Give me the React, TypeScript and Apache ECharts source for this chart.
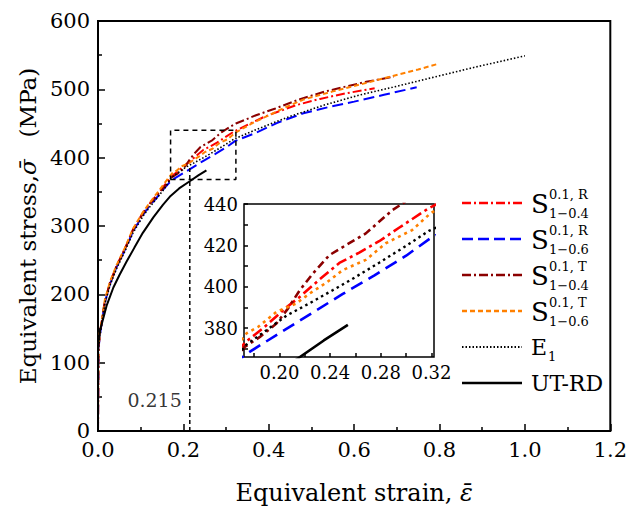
import React, { useEffect, useRef } from "react";
import * as echarts from "echarts";

const SERIF = "DejaVu Serif";

// ---------- axes ----------
const mainX = { min: 0, max: 1.2, interval: 0.2 };
const mainY = { min: 0, max: 600, interval: 100 };
const insetX = { min: 0.172, max: 0.322 };
const insetY = { min: 366, max: 440 };
const insetXTickValues = [0.18, 0.2, 0.22, 0.24, 0.26, 0.28, 0.3, 0.32];
const insetXLabelValues = [0.2, 0.24, 0.28, 0.32];
const insetYTickValues = [370, 380, 390, 400, 410, 420, 430, 440];
const insetYLabelValues = [380, 400, 420, 440];

// ---------- data (strain, stress MPa) ----------
const sR04: number[][] = [
  [0, 0], [0.001, 120], [0.004, 141], [0.009, 161], [0.016, 190], [0.028, 217], [0.043, 241],
  [0.063, 267], [0.082, 295], [0.105, 319], [0.12, 332], [0.137, 345], [0.155, 359],
  [0.1728, 373], [0.1872, 380], [0.2055, 390], [0.2159, 395], [0.2316, 403.5], [0.2473, 411.5],
  [0.263, 416.5], [0.2787, 422], [0.2944, 428.5], [0.3179, 438], [0.35, 448], [0.39, 460],
  [0.4647, 477], [0.52, 486], [0.579, 494], [0.648, 501.5],
];
const sR06: number[][] = [
  [0, 0], [0.001, 118], [0.004, 139], [0.009, 159], [0.016, 188], [0.028, 215], [0.043, 239],
  [0.063, 265], [0.082, 292], [0.105, 316], [0.12, 329], [0.137, 341], [0.155, 355],
  [0.1725, 367], [0.2, 377.5], [0.225, 387], [0.25, 396.5], [0.275, 405.5], [0.3, 415],
  [0.3216, 424.5], [0.3665, 435.5], [0.42, 451], [0.481, 465], [0.54, 474], [0.6, 482],
  [0.67, 492], [0.7465, 503],
];
const sT04: number[][] = [
  [0, 0], [0.001, 120], [0.004, 140], [0.009, 160], [0.016, 190], [0.028, 216], [0.043, 240],
  [0.063, 266], [0.082, 294], [0.105, 318], [0.12, 331], [0.137, 344], [0.155, 357],
  [0.1728, 371], [0.1846, 375.7], [0.1976, 382.2], [0.2068, 389.5], [0.2159, 398.2],
  [0.2264, 406.4], [0.2395, 415.3], [0.2525, 420.1], [0.2682, 425.8], [0.2891, 437],
  [0.309, 445], [0.323, 450], [0.37, 462], [0.4156, 472], [0.47, 485], [0.53, 496.5],
  [0.58, 504], [0.628, 511], [0.693, 518.5],
];
const sT06: number[][] = [
  [0, 0], [0.001, 122], [0.004, 143], [0.009, 162], [0.016, 192], [0.028, 218], [0.043, 242],
  [0.063, 268], [0.082, 296], [0.105, 320], [0.12, 333], [0.137, 347], [0.155, 362],
  [0.1741, 377.5], [0.1832, 380.6], [0.1976, 387.8], [0.2133, 391.9], [0.2238, 396.7],
  [0.2369, 401.9], [0.2499, 408], [0.2682, 413], [0.2839, 421], [0.3048, 427.4],
  [0.3192, 435.5], [0.36, 450], [0.4, 462], [0.44, 474], [0.481, 485], [0.55, 497],
  [0.62, 508], [0.693, 520], [0.75, 529], [0.795, 537],
];
const e1: number[][] = [
  [0, 0], [0.001, 118], [0.004, 138], [0.009, 158], [0.016, 186], [0.028, 213], [0.043, 237],
  [0.063, 263], [0.082, 290], [0.105, 314], [0.12, 327], [0.137, 340], [0.155, 354],
  [0.1728, 371.5], [0.1898, 379], [0.2055, 386], [0.2238, 392], [0.242, 398.3], [0.2604, 404.8],
  [0.2787, 411.6], [0.2996, 419.6], [0.3179, 427], [0.37, 441], [0.448, 460], [0.53, 477],
  [0.6116, 491.5], [0.69, 503], [0.775, 516], [0.88, 532], [1.0, 549],
];
const utRD: number[][] = [
  [0, 0], [0, 125], [0.005, 148], [0.0124, 165], [0.02, 183], [0.036, 210], [0.05, 228],
  [0.067, 248], [0.085, 268], [0.105, 290], [0.13, 313], [0.152, 331], [0.17, 344],
  [0.19, 355], [0.215, 365.5], [0.235, 374], [0.254, 381.5],
];

// zoom box & marker
const zoomBoxStrain = [0.17, 0.323];
const zoomBoxStress = [368, 440];
const markStrain = 0.215;
const markTopStress = 389;
const markLabelStress = 45;
const markLabel = "0.215";

// legend texts
const legendSup = ["0.1, R", "0.1, R", "0.1, T", "0.1, T", "", ""];
const legendSub = ["1\u22120.4", "1\u22120.6", "1\u22120.4", "1\u22120.6", "1", ""];
const legendMain = ["S", "S", "S", "S", "E", "UT-RD"];

const curves = [sR04, sR06, sT04, sT06, e1, utRD];
const names = ["S R 1-0.4", "S R 1-0.6", "S T 1-0.4", "S T 1-0.6", "E1", "UT-RD"];
const colors = ["#ff0000", "#0000ff", "#8b0000", "#ff8000", "#000000", "#000000"];
const dashMain: (number[] | null)[] = [[9, 3, 2, 3], [11, 5], [9, 3, 2, 3], [5, 3], [1.5, 2], null];
const dashInset: (number[] | null)[] = [[11, 4, 3, 4], [13, 7], [8, 4, 3, 4], [3, 4], [2.5, 3.5], null];
const widthMain = [2, 2, 2, 2, 1.6, 2];
const widthInset = [2.6, 2.6, 2.6, 2.6, 2.4, 2.6];

export default function App() {
  const ref = useRef<HTMLDivElement>(null);
  useEffect(() => {
    if (!ref.current) return;
    const chart = echarts.init(ref.current, null, { renderer: "svg" });

    const series: any[] = [];
    curves.forEach((d, i) => {
      series.push({
        type: "line", name: names[i], data: d, xAxisIndex: 0, yAxisIndex: 0,
        symbol: "none", silent: true, z: 3,
        lineStyle: { color: colors[i], width: widthMain[i], type: dashMain[i] || "solid", cap: "butt" },
      });
      series.push({
        type: "line", name: names[i] + " inset", data: d, xAxisIndex: 1, yAxisIndex: 1,
        symbol: "none", silent: true, z: 5, clip: true,
        lineStyle: { color: colors[i], width: widthInset[i], type: dashInset[i] || "solid", cap: "butt" },
      });
    });
    series.push({
      type: "line", data: [
        [zoomBoxStrain[0], zoomBoxStress[0]], [zoomBoxStrain[1], zoomBoxStress[0]],
        [zoomBoxStrain[1], zoomBoxStress[1]], [zoomBoxStrain[0], zoomBoxStress[1]],
        [zoomBoxStrain[0], zoomBoxStress[0]],
      ],
      xAxisIndex: 0, yAxisIndex: 0, symbol: "none", silent: true, z: 4,
      lineStyle: { color: "#000", width: 1.5, type: [5, 4] },
    });
    series.push({
      type: "line", data: [[markStrain, 0], [markStrain, markTopStress]],
      xAxisIndex: 0, yAxisIndex: 0, symbol: "none", silent: true, z: 4,
      lineStyle: { color: "#000", width: 1.5, type: [4, 3] },
    });
    series.push({
      type: "scatter", data: [[markStrain, markLabelStress]], xAxisIndex: 0, yAxisIndex: 0,
      symbolSize: 0, silent: true,
      label: { show: true, position: "left", distance: 8, formatter: markLabel, fontSize: 19, fontFamily: SERIF, color: "#000" },
    });

    // legend graphic
    const graphic: any[] = [];
    const legX1 = 462, legX2 = 522, textX = 531, rowTop = 203, rowGap = 36;
    curves.forEach((_, i) => {
      const y = rowTop + i * rowGap;
      graphic.push({
        type: "line", shape: { x1: legX1, y1: y, x2: legX2, y2: y },
        style: { stroke: colors[i], lineWidth: widthMain[i] + 0.5, lineDash: dashMain[i] || undefined },
      });
      const isS = legendMain[i] === "S";
      graphic.push({
        type: "text", x: textX, y: y + (isS ? 1 : 0),
        style: { text: legendMain[i], fontSize: isS ? 26 : 22, fontFamily: SERIF, fill: "#000", verticalAlign: "middle", align: "left" },
      });
      if (legendSup[i]) {
        graphic.push({
          type: "text", x: textX + 18, y: y - 9,
          style: { text: legendSup[i], fontSize: 13, fontFamily: SERIF, fill: "#000", verticalAlign: "middle", align: "left" },
        });
      }
      if (legendSub[i]) {
        graphic.push({
          type: "text", x: textX + (isS ? 18 : 17), y: y + (isS ? 10 : 9),
          style: { text: legendSub[i], fontSize: 13, fontFamily: SERIF, fill: "#000", verticalAlign: "middle", align: "left" },
        });
      }
    });

    const tickLine = { color: "#000", width: 1.5 };
    const richTitle = (size: number) => ({
      color: "#000", fontSize: size, fontFamily: SERIF,
      rich: {
        a: { fontSize: size, fontFamily: SERIF, color: "#000" },
        b: { fontSize: size, fontFamily: SERIF, fontStyle: "italic", color: "#000" },
      },
    });
    const option: any = {
      animation: false,
      backgroundColor: "#fff",
      textStyle: { fontFamily: SERIF },
      grid: [
        { left: 98, top: 21, width: 516, height: 410, show: true, borderColor: "#000", borderWidth: 2, backgroundColor: "transparent" },
        { left: 244, top: 204, width: 190, height: 153, show: true, borderColor: "#000", borderWidth: 1.5, backgroundColor: "#fff" },
      ],
      xAxis: [
        {
          type: "value", gridIndex: 0, ...mainX,
          axisLine: { show: false },
          axisTick: { inside: true, length: 7, lineStyle: tickLine },
          minorTick: { show: true, splitNumber: 2, length: 4, lineStyle: tickLine },
          splitLine: { show: false },
          axisLabel: { margin: 8, fontSize: 21, color: "#000", fontFamily: SERIF, formatter: (v: number) => v.toFixed(1) },
          name: "{a|Equivalent strain, }{b|\u03b5\u0304}",
          nameLocation: "middle", nameGap: 50,
          nameTextStyle: richTitle(24),
        },
        {
          type: "value", gridIndex: 1, ...insetX,
          axisLine: { show: false },
          axisTick: { inside: true, length: 4, lineStyle: tickLine, customValues: insetXTickValues },
          splitLine: { show: false },
          axisLabel: { margin: 6, fontSize: 18, color: "#000", fontFamily: SERIF, customValues: insetXLabelValues, formatter: (v: number) => v.toFixed(2) },
        },
      ],
      yAxis: [
        {
          type: "value", gridIndex: 0, ...mainY,
          axisLine: { show: false },
          axisTick: { inside: true, length: 7, lineStyle: tickLine },
          minorTick: { show: true, splitNumber: 2, length: 4, lineStyle: tickLine },
          splitLine: { show: false },
          axisLabel: { margin: 8, fontSize: 21, color: "#000", fontFamily: SERIF },
          name: "{a|Equivalent stress,}{b|\u03c3\u0304}{a|\u00a0\u00a0\u00a0(MPa)}",
          nameLocation: "middle", nameGap: 57,
          nameTextStyle: richTitle(23),
        },
        {
          type: "value", gridIndex: 1, ...insetY,
          axisLine: { show: false },
          axisTick: { inside: true, length: 4, lineStyle: tickLine, customValues: insetYTickValues },
          splitLine: { show: false },
          axisLabel: { margin: 6, fontSize: 18, color: "#000", fontFamily: SERIF, customValues: insetYLabelValues },
        },
      ],
      series,
      graphic,
    };
    chart.setOption(option);
    return () => chart.dispose();
  }, []);
  return <div ref={ref} style={{ position: "fixed", left: 0, top: 0, width: 630, height: 514, background: "#fff" }} />;
}
